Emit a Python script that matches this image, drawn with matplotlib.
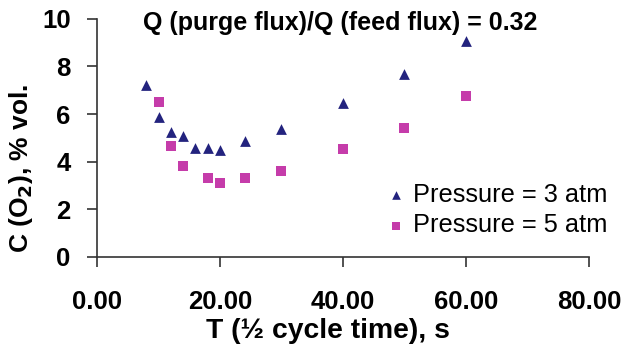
import matplotlib
matplotlib.use("Agg")
import matplotlib.pyplot as plt

# Half-cycle time (s) and O2 concentration (% vol.)
t_3atm = [8, 10, 12, 14, 16, 18, 20, 24, 30, 40, 50, 60]
c_3atm = [7.2, 5.88, 5.26, 5.09, 4.59, 4.59, 4.48, 4.86, 5.37, 6.47, 7.7, 9.07]
t_5atm = [10, 12, 14, 18, 20, 24, 30, 40, 50, 60]
c_5atm = [6.51, 4.65, 3.83, 3.31, 3.12, 3.3, 3.62, 4.55, 5.42, 6.74]

x_ticks = [0, 20, 40, 60, 80]
y_ticks = [0, 2, 4, 6, 8, 10]

plt.rcParams['font.family'] = ['Liberation Sans', 'DejaVu Sans']

fig = plt.figure(figsize=(6.34, 3.49), dpi=100)
ax = fig.add_axes([0.153, 0.264, 0.776, 0.682])

ax.scatter(t_3atm, c_3atm, marker='^', s=60, color='#23237e', linewidths=0,
           label='Pressure = 3 atm', zorder=3)
ax.scatter(t_5atm, c_5atm, marker='s', s=44, color='#c53caa', linewidths=0,
           label='Pressure = 5 atm', zorder=3)

ax.set_xlim(0, 80)
ax.set_ylim(0, 10)
ax.set_xticks(x_ticks)
ax.set_xticklabels([f"{v:.2f}" for v in x_ticks])
ax.set_yticks(y_ticks)
ax.set_yticklabels([str(v) for v in y_ticks])

for side in ('top', 'right'):
    ax.spines[side].set_visible(False)
for side in ('left', 'bottom'):
    ax.spines[side].set_color('#333333')
    ax.spines[side].set_linewidth(1.2)

ax.tick_params(axis='both', direction='out', length=7, width=1.2, color='#333333',
               labelsize=18.5)
ax.tick_params(axis='x', pad=17)
ax.tick_params(axis='y', pad=12)
for lbl in ax.get_xticklabels() + ax.get_yticklabels():
    lbl.set_fontweight('bold')

ax.set_xlabel('T (½ cycle time), s', fontsize=20.3, fontweight='bold')
ax.xaxis.set_label_coords(0.47, -0.255)
ax.set_ylabel('C (O$_\\mathbf{2}$), % vol.', fontsize=19, fontweight='bold')
ax.yaxis.set_label_coords(-0.126, 0.37)

ax.text(0.494, 0.954, 'Q (purge flux)/Q (feed flux) = 0.32', transform=ax.transAxes,
        ha='center', va='baseline', fontsize=18, fontweight='bold')

leg = ax.legend(loc='lower right', bbox_to_anchor=(1.058, 0.04), frameon=False,
                fontsize=18.3, handletextpad=0.25, borderaxespad=0, labelspacing=0.25,
                markerscale=0.8, handlelength=0.8)

fig.savefig('out.png', dpi=100)
